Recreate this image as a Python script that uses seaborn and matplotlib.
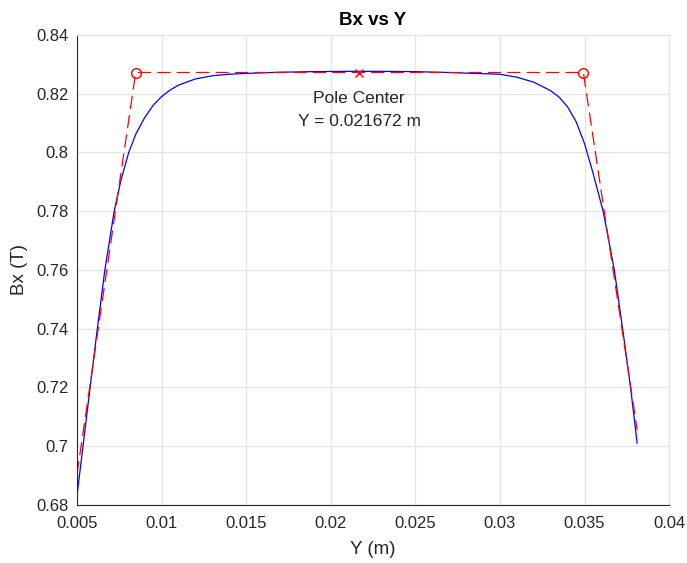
import pandas as pd
import matplotlib
matplotlib.use("Agg")
import matplotlib.pyplot as plt
from matplotlib.ticker import FuncFormatter, MultipleLocator
import seaborn as sns

# --- DATA ---
y_pos = [0.00500, 0.00540, 0.00580, 0.00620, 0.00665, 0.00720, 0.00760, 0.00806,
         0.00850, 0.00900, 0.00950, 0.01000, 0.01050, 0.01100, 0.01200, 0.01300,
         0.01400, 0.01500, 0.01700, 0.01900, 0.02100, 0.02300, 0.02500, 0.02700,
         0.03000, 0.03100, 0.03200, 0.03300, 0.03350, 0.03400, 0.03450, 0.03500,
         0.03550, 0.03610, 0.03676, 0.03725, 0.03772, 0.03811]
bx = [0.6830, 0.7020, 0.7210, 0.7398, 0.7600, 0.7800, 0.7905, 0.8000,
      0.8065, 0.8118, 0.8160, 0.8190, 0.8212, 0.8229, 0.8250, 0.8261,
      0.8266, 0.8269, 0.8273, 0.8275, 0.8276, 0.8276, 0.8275, 0.8272,
      0.8266, 0.8256, 0.8239, 0.8210, 0.8188, 0.8155, 0.8105, 0.8030,
      0.7930, 0.7800, 0.7600, 0.7400, 0.7200, 0.7010]

# trapezoid fit (red dashed) and its corners
fit_y = [0.00500, 0.00847, 0.03493, 0.03811]
fit_bx = [0.6904, 0.8272, 0.8272, 0.7056]
corner_y = [0.00847, 0.03493]
corner_bx = [0.8272, 0.8272]
center_y = 0.021672
center_bx = 0.8272
# -------------------------------------

sns.set_theme(style="whitegrid")
plt.rcParams['font.family'] = ['Liberation Sans', 'DejaVu Sans']
plt.rcParams['lines.scale_dashes'] = False

fig = plt.figure(figsize=(6.87, 5.63), dpi=100)
ax = fig.add_axes([0.112, 0.103, 0.862, 0.835])

curve = pd.DataFrame({'Y': y_pos, 'Bx': bx})
fit = pd.DataFrame({'Y': fit_y, 'Bx': fit_bx})

sns.lineplot(data=curve, x='Y', y='Bx', sort=False, color='blue', linewidth=0.9, ax=ax)
sns.lineplot(data=fit, x='Y', y='Bx', sort=False, color='red', linewidth=0.9,
             ax=ax).lines[-1].set_dashes((9.5, 4.5))
ax.plot(corner_y, corner_bx, linestyle='none', marker='o', markersize=7,
        markerfacecolor='none', markeredgecolor='red', markeredgewidth=1.0)
ax.plot([center_y], [center_bx], linestyle='none', marker='x', markersize=6,
        color='red', markeredgewidth=1.0)

ax.text(center_y, 0.8209, f"Pole Center\nY = {center_y:g} m", ha='center', va='top',
        fontsize=12.5, color='#262626', linespacing=1.65)

ax.set_xlim(0.005, 0.04)
ax.set_ylim(0.68, 0.84)
ax.xaxis.set_major_locator(MultipleLocator(0.005))
ax.yaxis.set_major_locator(MultipleLocator(0.02))
fmt = FuncFormatter(lambda v, p: f"{v:g}")
ax.xaxis.set_major_formatter(fmt)
ax.yaxis.set_major_formatter(fmt)

ax.set_facecolor('white')
ax.grid(True, color='#e3e3e3', linewidth=0.9)
for side in ['left', 'bottom']:
    ax.spines[side].set_color('#262626')
    ax.spines[side].set_linewidth(0.8)
for side in ['top', 'right']:
    ax.spines[side].set_color('#e3e3e3')
    ax.spines[side].set_linewidth(0.9)
ax.tick_params(axis='both', direction='in', length=4, width=0.8, color='#262626',
               labelsize=12, labelcolor='#262626')
ax.tick_params(axis='x', pad=8)
ax.tick_params(axis='y', pad=6)

ax.set_title('Bx vs Y', fontsize=13.5, fontweight='bold', color='black', pad=7)
ax.set_xlabel('Y (m)', fontsize=13.5, color='#262626', labelpad=7)
ax.set_ylabel('Bx (T)', fontsize=13.5, color='#262626', labelpad=6)

fig.savefig('out.png', dpi=100)
